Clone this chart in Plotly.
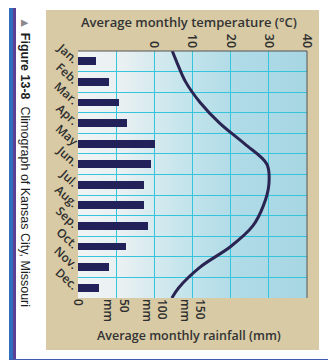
import base64
import plotly.graph_objects as go

# ---------------- data ----------------
months = ["Jan.", "Feb.", "Mar.", "Apr.", "May", "Jun.",
          "Jul.", "Aug.", "Sep.", "Oct.", "Nov.", "Dec."]
rainfall_mm = [24, 40, 54, 64, 101, 96, 87, 87, 92, 63, 41, 27]
temperature_c = [5.8, 8.2, 12.0, 17.1, 23.6, 29.5, 30.0, 28.6, 25.8, 20.0, 12.0, 6.4]
# curve values where it meets the top and bottom edges of the grid
temp_top_edge = 4.7
temp_bottom_edge = 4.6

temp_ticks = [0, 10, 20, 30, 40]
rain_ticks = [0, 50, 100, 150]
rain_ticktext = ["0", "50<br>mm", "100<br>mm", "150<br>mm"]

# ---------------- layout geometry ----------------
W, H = 336, 360
L, R, T, B = 70, 37, 43, 70
PW, PH = W - L - R, H - T - B


def px(x):
    return (x - L) / PW


def py(y):
    return (H - B - y) / PH


n = len(months)
idx = list(range(n))

GRID = "#36c3dc"
BEIGE = "#d7caa5"
NAVY = "#22215a"
TXT = "#2e2e2e"

fig = go.Figure()

fig.add_trace(go.Bar(
    x=rainfall_mm, y=idx, orientation="h", width=0.38,
    marker=dict(color=NAVY, line=dict(width=0)),
    hoverinfo="skip", xaxis="x", yaxis="y",
))

curve_x = [temp_top_edge] + temperature_c + [temp_bottom_edge]
curve_y = [-0.5] + idx + [n - 0.5]
fig.add_trace(go.Scatter(
    x=curve_x, y=curve_y, mode="lines",
    line=dict(color="#2a2452", width=3, shape="spline", smoothing=1.0),
    hoverinfo="skip", xaxis="x2", yaxis="y",
))

svg = ('<svg xmlns="http://www.w3.org/2000/svg" width="100" height="100" '
       'viewBox="0 0 100 100" preserveAspectRatio="none">'
       '<defs><linearGradient id="g" x1="0" x2="1" y1="0" y2="0">'
       '<stop offset="0" stop-color="#f1f4f5"/>'
       '<stop offset="0.2" stop-color="#e8f0f2"/>'
       '<stop offset="0.45" stop-color="#c6e5ec"/>'
       '<stop offset="0.7" stop-color="#afdbe7"/>'
       '<stop offset="1" stop-color="#a7d6e3"/>'
       '</linearGradient></defs>'
       '<rect x="0" y="0" width="100" height="100" fill="url(#g)"/></svg>')
src = "data:image/svg+xml;base64," + base64.b64encode(svg.encode()).decode()

shapes = []
# white page outside the beige panel
for (x0, x1, y0, y1) in [(0, 38, 0, H), (311, W, 0, H), (0, W, 342, H), (0, W, 0, 2)]:
    shapes.append(dict(type="rect", xref="paper", yref="paper",
                       x0=px(x0), x1=px(x1), y0=py(y1), y1=py(y0),
                       fillcolor="white", line=dict(width=0), layer="below"))
# blue / purple page frame
for (x0, x1, y0, y1, c) in [(1, 6, 0, 356, "#2f6fbd"), (5, 8, 0, 356, "#5a3f95"),
                            (321, 325, 0, 356, "#5a3f95"), (325, 329, 0, 356, "#2f6fbd"),
                            (1, 329, 351, 357, "#3d5cb0")]:
    shapes.append(dict(type="rect", xref="paper", yref="paper",
                       x0=px(x0), x1=px(x1), y0=py(y1), y1=py(y0),
                       fillcolor=c, line=dict(width=0), layer="below"))
# dark edges of the grid (top and right)
shapes.append(dict(type="line", xref="paper", yref="paper", x0=0, x1=1, y0=1, y1=1,
                   line=dict(color="#555555", width=1)))
shapes.append(dict(type="line", xref="paper", yref="paper", x0=1, x1=1, y0=0, y1=1,
                   line=dict(color="#555555", width=1)))

annotations = [
    dict(text="Average monthly temperature (°C)", xref="paper", yref="paper",
         x=px(181), y=py(14), showarrow=False, xanchor="center", yanchor="middle",
         font=dict(family="Open Sans", size=13, color="#333333", weight=600)),
    dict(text="Average monthly rainfall (mm)", xref="paper", yref="paper",
         x=px(181), y=py(327), showarrow=False, xanchor="center", yanchor="middle",
         font=dict(family="Open Sans", size=12.5, color="#333333", weight=600)),
    dict(text="<span style='color:#8a8a8a'>▲</span> <b>Figure 13-8</b>  Climograph of Kansas City, Missouri",
         xref="paper", yref="paper", x=px(17), y=py(154), showarrow=False,
         textangle=90, xanchor="center", yanchor="middle",
         font=dict(family="Liberation Sans", size=12.5, color="#1e1e1e")),
]

fig.update_layout(
    width=W, height=H,
    margin=dict(l=L, r=R, t=T, b=B, pad=0),
    paper_bgcolor=BEIGE,
    plot_bgcolor="#a7d6e3",
    showlegend=False,
    bargap=0,
    images=[dict(source=src, xref="paper", yref="paper", x=0, y=1, sizex=1, sizey=1,
                 xanchor="left", yanchor="top", sizing="stretch", layer="below")],
    shapes=shapes,
    annotations=annotations,
    xaxis=dict(
        range=[0, 300], tickmode="array", tickvals=rain_ticks, ticktext=rain_ticktext,
        tickangle=90, showgrid=False, zeroline=False, showline=False, ticks="",
        tickfont=dict(family="Open Sans", size=12, color=TXT, weight=600),
        minor=dict(tickvals=[50, 100, 150, 200, 250], showgrid=True,
                   gridcolor=GRID, gridwidth=1, ticks=""),
        automargin=False, fixedrange=True,
    ),
    xaxis2=dict(
        range=[-20, 40], overlaying="x", side="top", anchor="y",
        tickmode="array", tickvals=temp_ticks, tickangle=90,
        showgrid=False, zeroline=False, showline=False, ticks="",
        tickfont=dict(family="Open Sans", size=12.5, color=TXT, weight=600),
        automargin=False, fixedrange=True,
    ),
    yaxis=dict(
        range=[n - 0.5, -0.5], tickmode="array", tickvals=idx, ticktext=months,
        tickangle=42, showgrid=False, zeroline=False, showline=False, ticks="",
        tickfont=dict(family="Open Sans", size=12, color=TXT, weight=600),
        minor=dict(tickvals=[i + 0.5 for i in range(n - 1)], showgrid=True,
                   gridcolor=GRID, gridwidth=1, ticks=""),
        automargin=False, fixedrange=True,
    ),
)

fig.write_html("out.html")
